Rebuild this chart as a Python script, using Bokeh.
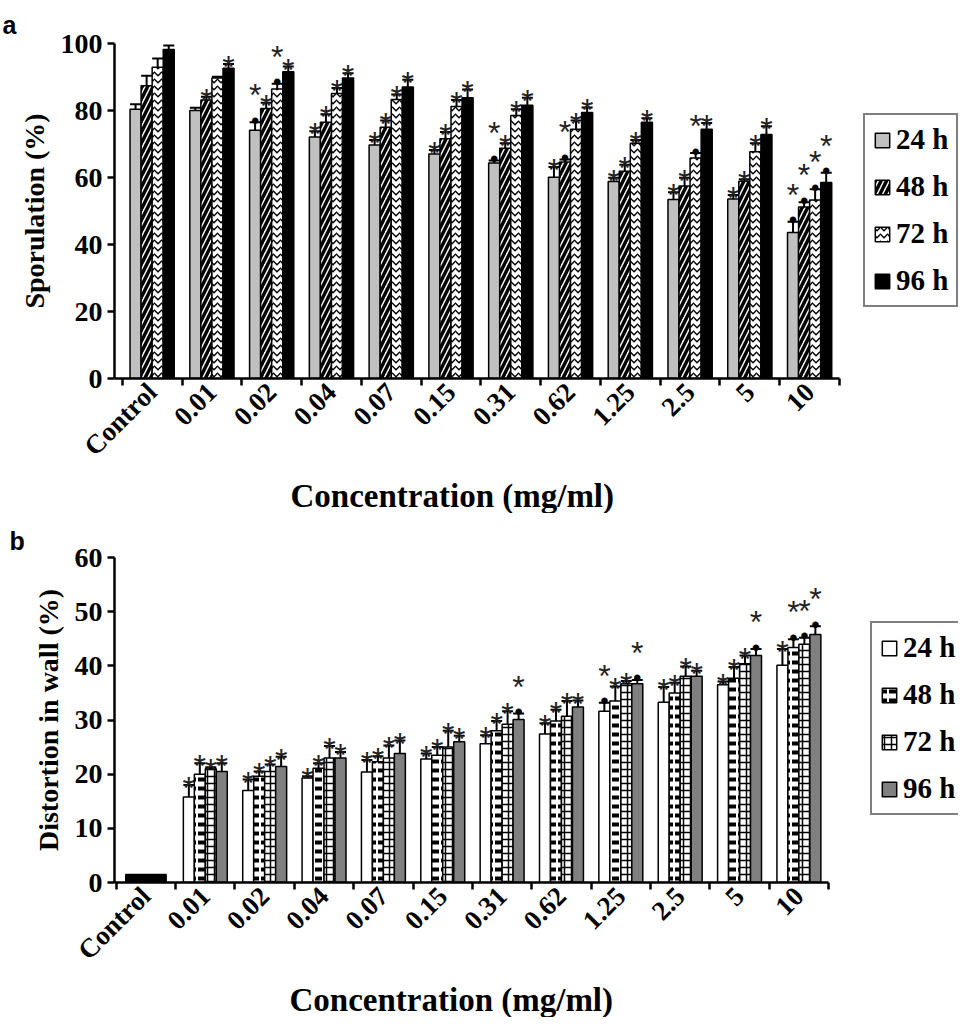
import math
from bokeh.plotting import figure
from bokeh.models import (ColumnDataSource, FixedTicker, Whisker, TeeHead, Legend,
                          LegendItem, Title, Range1d)
from bokeh.layouts import column
from bokeh.embed import file_html
from bokeh.resources import INLINE
from bokeh.core.properties import value

# ---------------- data ----------------
categories = ["Control", "0.01", "0.02", "0.04", "0.07", "0.15", "0.31", "0.62",
              "1.25", "2.5", "5", "10"]
series = ["24 h", "48 h", "72 h", "96 h"]

# Panel a: Sporulation (%)
a_24 = [80.4, 80.0, 74.1, 72.1, 69.7, 67.0, 64.3, 60.1, 58.8, 53.4, 53.6, 43.6]
a_48 = [87.4, 83.1, 80.6, 76.5, 75.0, 71.6, 68.7, 64.6, 61.9, 57.5, 58.9, 51.2]
a_72 = [92.9, 89.7, 86.4, 85.1, 83.3, 81.2, 78.5, 74.4, 70.2, 65.8, 67.7, 53.3]
a_96 = [98.2, 92.6, 91.6, 89.7, 87.0, 83.8, 81.6, 79.4, 76.5, 74.4, 72.8, 58.5]
a_24_sd = [1.5, 0.8, 2.4, 1.7, 1.5, 1.2, 0.8, 3.0, 1.1, 2.2, 1.2, 3.2]
a_48_sd = [3.0, 1.0, 1.7, 2.4, 2.0, 2.0, 1.5, 0.8, 1.9, 2.4, 0.6, 1.4]
a_72_sd = [2.6, 0.4, 1.6, 1.6, 1.5, 1.9, 1.9, 2.6, 1.0, 1.5, 2.5, 3.2]
a_96_sd = [1.2, 1.3, 1.5, 1.4, 2.2, 2.5, 2.2, 1.5, 1.2, 1.9, 2.5, 2.9]
a_24_sig = ["", "", "•*", "*", "*", "*", "•*", "*", "*", "*", "*", "•*"]
a_48_sig = ["", "*", "*", "*", "*", "*", "*", "•*", "*", "*", "*", "•*"]
a_72_sig = ["", "", "•*", "*", "*", "*", "*", "*", "*", "•*", "*", "•*"]
a_96_sig = ["", "*", "*", "*", "*", "*", "*", "*", "*", "*", "*", "•*"]

# Panel b: Distortion in wall (%)
b_control = 1.5
b_24 = [15.8, 17.0, 19.3, 20.4, 22.8, 25.6, 27.4, 31.6, 33.3, 36.5, 40.1]
b_48 = [20.0, 19.6, 21.1, 22.3, 23.5, 28.0, 29.8, 33.5, 35.0, 37.7, 43.4]
b_72 = [21.0, 20.5, 23.0, 23.0, 25.0, 29.2, 30.7, 36.7, 38.1, 40.4, 44.0]
b_96 = [20.5, 21.4, 23.0, 23.8, 26.0, 30.1, 32.4, 36.7, 38.1, 41.9, 45.8]
b_24_sd = [2.2, 2.0, 0.3, 2.2, 1.0, 1.6, 2.0, 1.6, 2.8, 0.6, 3.0]
b_48_sd = [2.0, 0.9, 0.9, 1.0, 1.5, 1.8, 2.1, 2.7, 1.9, 2.1, 1.5]
b_72_sd = [0.3, 1.3, 2.2, 2.3, 3.0, 2.4, 2.8, 0.5, 1.8, 1.5, 1.2]
b_96_sd = [1.5, 1.8, 1.1, 2.4, 1.1, 1.1, 1.2, 0.7, 1.0, 1.2, 1.5]
b_24_sig = ["*", "*", "*", "*", "*", "*", "*", "•*", "*", "*", "*"]
b_48_sig = ["*", "*", "*", "*", "*", "*", "*", "*", "*", "*", "•*"]
b_72_sig = ["*", "*", "*", "*", "*", "*", "*", "*", "*", "*", "•*"]
b_96_sig = ["*", "*", "*", "*", "*", "•*", "*", "•*", "*", "•*", "•*"]

# ---------------- styling ----------------
SERIF = "Liberation Serif"
SANS = "Liberation Sans"
BAR_W = 0.185
OFFSETS = [-0.2775, -0.0925, 0.0925, 0.2775]

styles_a = [
    dict(fill_color="#c0c0c0"),
    dict(fill_color="white", hatch_pattern="right_diagonal_line", hatch_color="black",
         hatch_weight=3.5, hatch_scale=11),
    dict(fill_color="white", hatch_pattern="horizontal_wave", hatch_color="black",
         hatch_weight=1.3, hatch_scale=7),
    dict(fill_color="black"),
]
styles_b = [
    dict(fill_color="white"),
    dict(fill_color="white", hatch_pattern="horizontal_dash", hatch_color="black",
         hatch_weight=4, hatch_scale=9),
    dict(fill_color="white", hatch_pattern="cross", hatch_color="black",
         hatch_weight=1.5, hatch_scale=7),
    dict(fill_color="#808080"),
]

WIDTH = 958
RIGHT_PAD = 0


def make_panel(vals, sds, sigs, styles, first_cat, y_end, y_step, ylabel, letter,
               height, frame_left, axis_end_px, frame_top, frame_h, x_start,
               xlabel_left_px, legend_loc, letter_standoff):
    n = len(categories)
    frame_w = WIDTH - frame_left - RIGHT_PAD
    px_per_cat = (axis_end_px - frame_left) / (n - x_start)
    x_end = x_start + frame_w / px_per_cat

    p = figure(width=WIDTH, height=height, output_backend="svg", toolbar_location=None,
               x_range=Range1d(x_start, x_end), y_range=Range1d(0, y_end),
               min_border_left=frame_left, min_border_right=RIGHT_PAD,
               min_border_top=frame_top, min_border_bottom=height - frame_top - frame_h)
    p.outline_line_color = None
    p.grid.visible = False
    p.background_fill_color = "white"
    p.border_fill_color = "white"

    legend_items = []
    for j, (v, sd, sg, st) in enumerate(zip(vals, sds, sigs, styles)):
        xs = [first_cat + i + 0.5 + OFFSETS[j] for i in range(len(v))]
        up = [a + b for a, b in zip(v, sd)]
        src = ColumnDataSource(dict(x=xs, top=v, upper=up))
        r = p.vbar(x="x", top="top", width=BAR_W, source=src, line_color="black",
                   line_width=1.5, **st)
        legend_items.append(LegendItem(label=series[j], renderers=[r]))
        p.add_layout(Whisker(source=src, base="x", lower="top", upper="upper",
                             dimension="height", line_width=2, line_color="black",
                             upper_head=TeeHead(size=11, line_width=2, line_color="black"),
                             lower_head=None))
        dx, dy, ax, ay, aoff = [], [], [], [], []
        for x, u, s in zip(xs, up, sg):
            if "•" in s:
                dx.append(x); dy.append(u)
            if "*" in s:
                ax.append(x); ay.append(u)
                aoff.append(-27 if "•" in s else 3)
        p.text(x=dx, y=dy, text=["•"] * len(dx), text_font=value(SANS),
               text_font_size="24px", text_align="center", text_baseline="alphabetic",
               y_offset=-2, text_color="black")
        p.text(x=ax, y=ay, text=["*"] * len(ax), text_font=value(SANS),
               text_font_size="32px", text_align="center", text_baseline="alphabetic",
               y_offset=aoff, text_color="#222222")

    # axes
    xt = FixedTicker(ticks=[i + 0.5 for i in range(n)], minor_ticks=list(range(n + 1)))
    p.xaxis.ticker = xt
    p.xaxis.bounds = (x_start, n)
    p.xaxis.major_label_overrides = {i + 0.5: c for i, c in enumerate(categories)}
    p.xaxis.major_label_orientation = math.pi / 4
    p.xaxis.major_tick_out = 0
    p.xaxis.major_tick_in = 0
    p.xaxis.minor_tick_out = 7
    p.xaxis.minor_tick_in = 0
    p.xaxis.minor_tick_line_width = 2.5
    p.xaxis.minor_tick_line_color = "black"
    p.xaxis.major_label_standoff = 2

    p.yaxis.ticker = FixedTicker(ticks=list(range(0, y_end + 1, y_step)))
    p.yaxis.minor_tick_line_color = None
    p.yaxis.major_tick_out = 7
    p.yaxis.major_tick_in = 0
    p.yaxis.major_tick_line_width = 2.5
    p.yaxis.axis_label = ylabel
    p.yaxis.axis_label_standoff = 8
    p.yaxis.major_label_standoff = 5

    for ax_ in (p.xaxis, p.yaxis):
        ax_.axis_line_width = 2.5
        ax_.axis_line_color = "black"
        ax_.major_tick_line_color = "black"
        ax_.major_label_text_font = SERIF
        ax_.major_label_text_font_style = "bold"
        ax_.major_label_text_font_size = "28px"
        ax_.major_label_text_color = "black"
        ax_.axis_label_text_font = SERIF
        ax_.axis_label_text_font_style = "bold"
        ax_.axis_label_text_font_size = "28px"
        ax_.axis_label_text_color = "black"
    p.xaxis.major_label_text_font_size = "27px"

    legend = Legend(items=legend_items, location=legend_loc, orientation="vertical",
                    label_text_font=SERIF, label_text_font_style="bold",
                    label_text_font_size="29px", label_text_color="black",
                    glyph_width=18, glyph_height=18, label_standoff=5, spacing=14,
                    padding=8, margin=0, border_line_color="black", border_line_width=2,
                    background_fill_color="white", background_fill_alpha=1)
    p.add_layout(legend, "center")

    # panel letter (above) and x-axis title (below)
    p.title.text = letter
    p.title.align = "left"
    p.title.offset = 10 - (8 + frame_left)
    p.title.text_font = SANS
    p.title.text_font_style = "bold"
    p.title.text_font_size = "25px"
    p.title.text_color = "black"
    p.title.text_line_height = 1.0
    p.title.standoff = letter_standoff

    p.add_layout(Title(text="Concentration (mg/ml)", align="left",
                       offset=xlabel_left_px - (8 + frame_left), text_font=SERIF,
                       text_font_style="bold", text_font_size="33px",
                       text_line_height=1.0, text_color="black", standoff=0), "below")
    return p


pa = make_panel([a_24, a_48, a_72, a_96], [a_24_sd, a_48_sd, a_72_sd, a_96_sd],
                [a_24_sig, a_48_sig, a_72_sig, a_96_sig], styles_a, 0, 100, 20,
                "Sporulation (%)", "a", height=513, frame_left=114, axis_end_px=839,
                frame_top=43, frame_h=342, x_start=-0.13, xlabel_left_px=298,
                legend_loc=(749, 71), letter_standoff=10)

pb = make_panel([b_24, b_48, b_72, b_96], [b_24_sd, b_48_sd, b_72_sd, b_96_sd],
                [b_24_sig, b_48_sig, b_72_sig, b_96_sig], styles_b, 1, 60, 10,
                "Distortion in wall (%)", "b", height=504, frame_left=107, axis_end_px=827,
                frame_top=44, frame_h=332, x_start=-0.03, xlabel_left_px=290,
                legend_loc=(756, 67), letter_standoff=6)
# Control bar in panel b (single black bar)
pb.vbar(x=[0.5], top=[b_control], width=0.68, fill_color="black", line_color="black",
        line_width=1.5)

layout = column(pa, pb, spacing=0)
open("out.html", "w").write(file_html(layout, INLINE))
